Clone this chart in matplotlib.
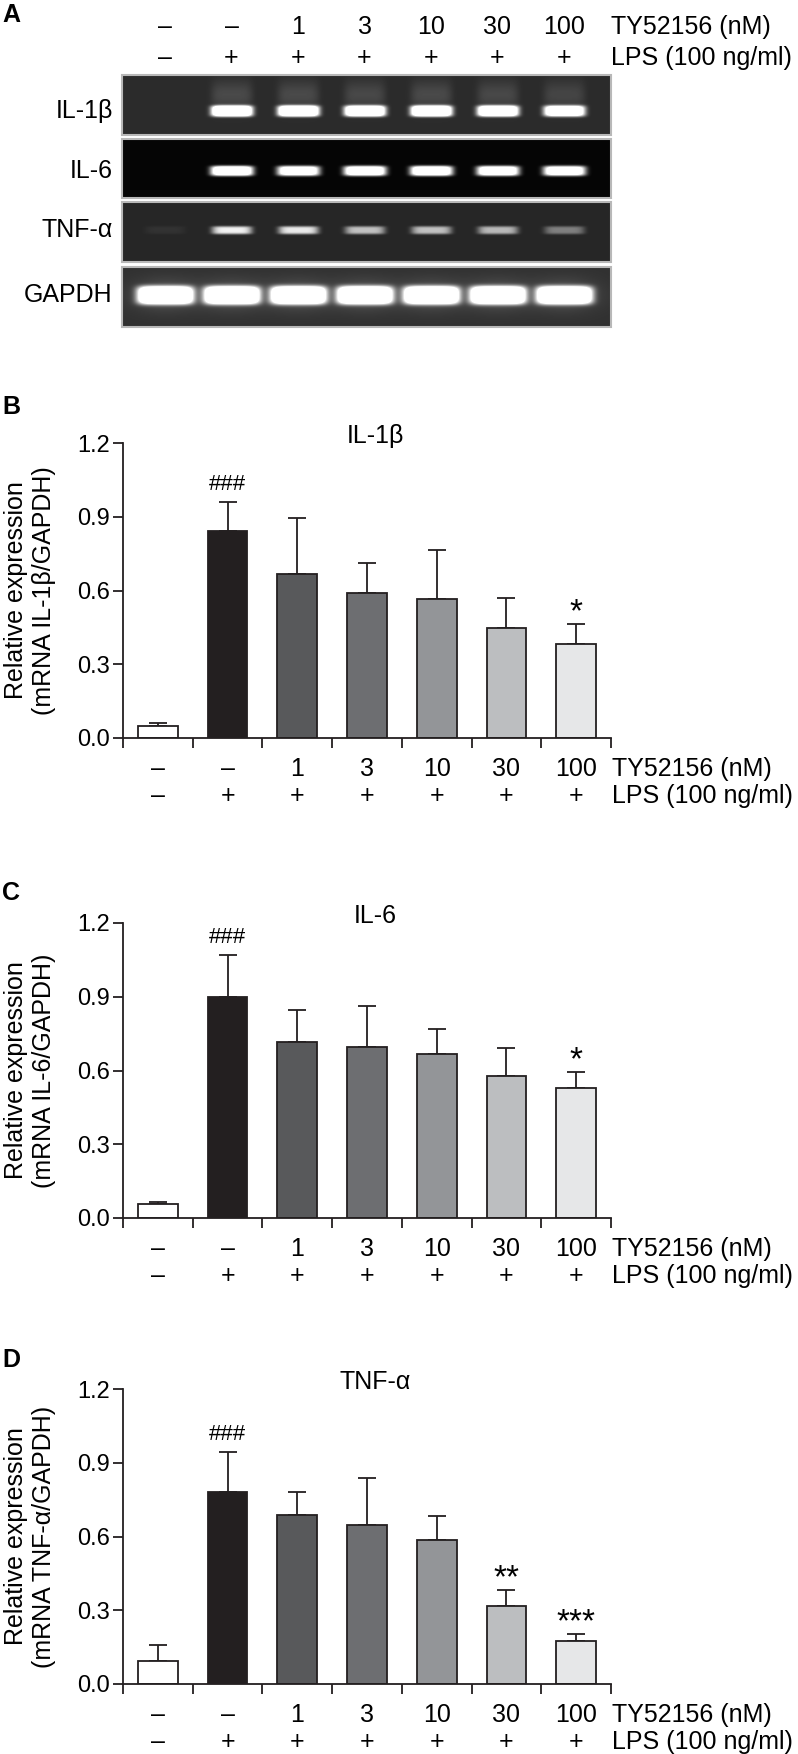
import numpy as np
import matplotlib.pyplot as plt
from matplotlib.patches import Rectangle

plt.rcParams['font.family'] = ['Liberation Sans', 'DejaVu Sans']

W, H = 798, 1754

# ---- data ----
ty_labels = ['–', '–', '1', '3', '10', '30', '100']
lps_labels = ['–', '+', '+', '+', '+', '+', '+']
bar_colors = ['#ffffff', '#231f20', '#58595b', '#6d6e71', '#939598', '#bcbec0', '#e6e7e8']

il1b_mean = [0.047, 0.841, 0.668, 0.588, 0.565, 0.446, 0.384]
il1b_err = [0.014, 0.119, 0.226, 0.124, 0.200, 0.122, 0.081]
il1b_marks = ['', '###', '', '', '', '', '*']

il6_mean = [0.057, 0.899, 0.716, 0.696, 0.666, 0.579, 0.530]
il6_err = [0.007, 0.171, 0.129, 0.165, 0.101, 0.114, 0.065]
il6_marks = ['', '###', '', '', '', '', '*']

tnf_mean = [0.092, 0.782, 0.689, 0.648, 0.584, 0.316, 0.175]
tnf_err = [0.067, 0.163, 0.091, 0.188, 0.099, 0.068, 0.030]
tnf_marks = ['', '###', '', '', '', '**', '***']

# gel band brightness per lane (0 = no band, 1 = saturated)
gel_genes = ['IL-1β', 'IL-6', 'TNF-α', 'GAPDH']
il1b_band = [0.0, 1.0, 1.0, 0.95, 1.0, 0.95, 0.85]
il6_band = [0.0, 0.95, 0.85, 0.9, 0.92, 0.88, 0.85]
tnf_band = [0.03, 0.5, 0.48, 0.38, 0.38, 0.36, 0.22]
gapdh_band = [1.0, 1.0, 1.0, 1.0, 1.0, 1.0, 1.0]

fig = plt.figure(figsize=(W / 100, H / 100), dpi=100)


def px_axes(x0, y0, x1, y1):
    return fig.add_axes([x0 / W, 1 - y1 / H, (x1 - x0) / W, (y1 - y0) / H])


def ftext(x, y, s, **kw):
    fig.text(x / W, 1 - y / H, s, **kw)


FS = 17     # tick labels
RFS = 18    # row labels / titles

# ---- panel A: gel ----
gx0, gx1 = 122, 611
lane0, lane1 = -0.647, 6.707
gel = px_axes(gx0, 75, gx1, 327)

rows = [(75, 135), (139, 198), (202, 262), (267, 327)]
bands = [il1b_band, il6_band, tnf_band, gapdh_band]
bg = [0.17, 0.02, 0.15, 0.19]
ypos = [0.6, 0.54, 0.47, 0.47]
bw = [0.31, 0.32, 0.3, 0.42]
bh = [5.5, 5.0, 4.0, 9.0]

xs = np.linspace(lane0, lane1, 490)
for k, (top, bot) in enumerate(rows):
    ys = np.arange(top, bot) + 0.5
    X, Y = np.meshgrid(xs, ys)
    img = np.full(X.shape, bg[k])
    yc = top + ypos[k] * (bot - top)
    for i, b in enumerate(bands[k]):
        shape_x = np.exp(-(np.abs(X - i) / bw[k]) ** 6)
        img += 1.6 * b * shape_x * np.exp(-(np.abs(Y - yc) / bh[k]) ** 4)
        if k == 0:
            img += 0.12 * b * shape_x * np.exp(-((Y - (yc - 16)) / 14) ** 2)
        if k == 3:
            img += 0.15 * b * np.exp(-(np.abs(X - i) / 0.5) ** 2) * np.exp(-((Y - yc) / 16) ** 2)
    img = np.clip(img, 0, 1)
    gel.imshow(img, cmap='gray', vmin=0, vmax=1, aspect='auto',
               extent=(lane0, lane1, bot, top), interpolation='bilinear')
    gel.add_patch(Rectangle((lane0, top), lane1 - lane0, bot - top, fill=False,
                            ec='#b8b8b8', lw=1.5, clip_on=False))
    gel.text(lane0 - 0.14, yc, gel_genes[k], ha='right', va='center', fontsize=RFS)

gel.set_xlim(lane0, lane1)
gel.set_ylim(327, 75)
gel.axis('off')
for i in range(7):
    gel.text(i, 27, ty_labels[i], ha='center', va='center', fontsize=RFS, clip_on=False)
    gel.text(i, 58, lps_labels[i], ha='center', va='center', fontsize=RFS, clip_on=False)
gel.text(lane1, 27, 'TY52156 (nM)', ha='left', va='center', fontsize=RFS, clip_on=False)
gel.text(lane1, 58, 'LPS (100 ng/ml)', ha='left', va='center', fontsize=RFS, clip_on=False)

# ---- bar panels ----
panels = [
    ('B', 'IL-1β', 'Relative expression\n(mRNA IL-1β/GAPDH)', il1b_mean, il1b_err, il1b_marks, 443, 738, 407),
    ('C', 'IL-6', 'Relative expression\n(mRNA IL-6/GAPDH)', il6_mean, il6_err, il6_marks, 923, 1218, 893),
    ('D', 'TNF-α', 'Relative expression\n(mRNA TNF-α/GAPDH)', tnf_mean, tnf_err, tnf_marks, 1389, 1684, 1360),
]
ax0, ax1 = 123, 611
ec = '#231f20'
x = np.arange(7) + 0.5
for letter, title, ylab, mean, err, marks, top, bot, ly in panels:
    ax = px_axes(ax0, top, ax1, bot)
    ax.bar(x, mean, width=0.57, color=bar_colors, edgecolor=ec, linewidth=1.3, zorder=2)
    ax.errorbar(x, mean, yerr=[np.zeros(7), err], fmt='none', ecolor=ec,
                elinewidth=1.3, capsize=6.5, capthick=1.3, zorder=1)
    ax.set_xlim(0, 7)
    ax.set_ylim(0, 1.2)
    for s in ['top', 'right']:
        ax.spines[s].set_visible(False)
    for s in ['left', 'bottom']:
        ax.spines[s].set_linewidth(1.3)
        ax.spines[s].set_color(ec)
    ax.set_xticks(range(8))
    ax.set_xticklabels([])
    ax.set_yticks([0, 0.3, 0.6, 0.9, 1.2])
    ax.set_yticklabels(['0.0', '0.3', '0.6', '0.9', '1.2'], fontsize=FS)
    ax.tick_params(axis='both', direction='out', length=7.2, width=1.3, color=ec, pad=2)

    for i, m in enumerate(marks):
        if not m:
            continue
        if m.startswith('#'):
            ax.annotate(m, (x[i], mean[i] + err[i]), xytext=(0, 12), textcoords='offset pixels',
                        ha='center', va='baseline', fontsize=16)
        else:
            ax.annotate(m, (x[i], mean[i] + err[i]), xytext=(0, 2), textcoords='offset pixels',
                        ha='center', va='baseline', fontsize=24)

    for i in range(7):
        cx = ax0 + x[i] * (ax1 - ax0) / 7
        ftext(cx, bot + 31, ty_labels[i], ha='center', va='center', fontsize=RFS)
        ftext(cx, bot + 58, lps_labels[i], ha='center', va='center', fontsize=RFS)
    ftext(ax1 + 1, bot + 31, 'TY52156 (nM)', ha='left', va='center', fontsize=RFS)
    ftext(ax1 + 1, bot + 58, 'LPS (100 ng/ml)', ha='left', va='center', fontsize=RFS)

    ftext(375, top - 7, title, ha='center', va='center', fontsize=RFS)
    ftext(30, (top + bot) / 2, ylab, ha='center', va='center', rotation=90, fontsize=18)
    ftext(2, ly, letter, ha='left', va='center', fontsize=18, fontweight='bold')

ftext(2, 15, 'A', ha='left', va='center', fontsize=18, fontweight='bold')

fig.savefig('out.png', dpi=100)
